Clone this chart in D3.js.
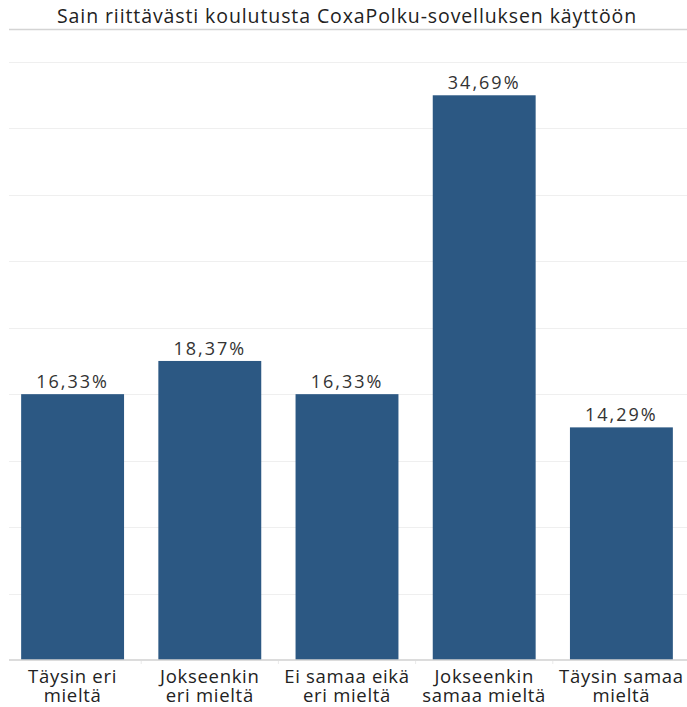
<!DOCTYPE html>
<html>
<head>
<meta charset="utf-8">
<script src="https://cdn.jsdelivr.net/npm/d3@7"></script>
<style>
  body { margin: 0; background: #fff; }
  svg { display: block; }
  text { font-family: "Open Sans", "Noto Sans", sans-serif; }
</style>
</head>
<body>
<script>
const titleText = "Sain riittävästi koulutusta CoxaPolku-sovelluksen käyttöön";
const categories = [
  ["Täysin eri", "mieltä"],
  ["Jokseenkin", "eri mieltä"],
  ["Ei samaa eikä", "eri mieltä"],
  ["Jokseenkin", "samaa mieltä"],
  ["Täysin samaa", "mieltä"]
];
const values = [16.33, 18.37, 16.33, 34.69, 14.29];
const respondents = 49;
const gridCounts = [0, 2, 4, 6, 8, 10, 12, 14, 16, 18];

const W = 687, H = 707;
const svg = d3.select("body").append("svg").attr("width", W).attr("height", H);

const x = d3.scaleBand()
  .domain(d3.range(categories.length))
  .range([4, 690])
  .paddingInner(0.25)
  .paddingOuter(0.125);

const yMax = 18 / respondents * 100;
const y = d3.scaleLinear().domain([0, yMax]).range([660, 62]);

// title
svg.append("text")
  .attr("x", 347).attr("y", 23)
  .attr("text-anchor", "middle")
  .attr("font-size", 19.5)
  .attr("letter-spacing", 0.9)
  .attr("fill", "#222")
  .text(titleText);

svg.append("line")
  .attr("x1", 9).attr("x2", W).attr("y1", 29.5).attr("y2", 29.5)
  .attr("stroke", "#d4d4d4").attr("stroke-width", 1.5);

// gridlines
const gridVals = gridCounts.slice(1).map(c => c / respondents * 100);
svg.append("g").selectAll("line").data(gridVals).join("line")
  .attr("x1", 9).attr("x2", W)
  .attr("y1", d => Math.round(y(d)) + 0.5)
  .attr("y2", d => Math.round(y(d)) + 0.5)
  .attr("stroke", "#efefef").attr("stroke-width", 1);

// bars
svg.append("g").selectAll("rect").data(values).join("rect")
  .attr("x", (d, i) => x(i))
  .attr("width", x.bandwidth())
  .attr("y", d => y(d))
  .attr("height", d => y(0) - y(d))
  .attr("fill", "#2c5883");

// value labels
const fmt = v => d3.format(".2f")(v).replace(".", ",") + "%";
svg.append("g").selectAll("text").data(values).join("text")
  .attr("x", (d, i) => x(i) + x.bandwidth() / 2)
  .attr("y", d => y(d) - 6)
  .attr("text-anchor", "middle")
  .attr("font-size", 18)
  .attr("letter-spacing", 2)
  .attr("fill", "#333")
  .text(fmt);

// baseline axis
const xAxis = d3.axisBottom(x).tickSize(0).tickFormat("");
const axG = svg.append("g").attr("transform", "translate(0,660)").call(xAxis);
axG.select(".domain").attr("stroke", "#d0d0d0").attr("stroke-width", 1.5)
  .attr("d", "M9,0H" + W);

// band separators
svg.append("g").selectAll("line").data(d3.range(1, categories.length)).join("line")
  .attr("x1", i => x(i) - x.step() * x.paddingInner() / 2)
  .attr("x2", i => x(i) - x.step() * x.paddingInner() / 2)
  .attr("y1", 661).attr("y2", 664)
  .attr("stroke", "#eaeaea");

// category labels
const cat = svg.append("g").selectAll("text").data(categories).join("text")
  .attr("text-anchor", "middle")
  .attr("font-size", 18.5)
  .attr("letter-spacing", 0.7)
  .attr("fill", "#222");
cat.each(function(d, i) {
  const t = d3.select(this);
  d.forEach((line, k) => {
    t.append("tspan")
      .attr("x", x(i) + x.bandwidth() / 2)
      .attr("y", 683 + k * 19)
      .text(line);
  });
});
</script>
</body>
</html>
